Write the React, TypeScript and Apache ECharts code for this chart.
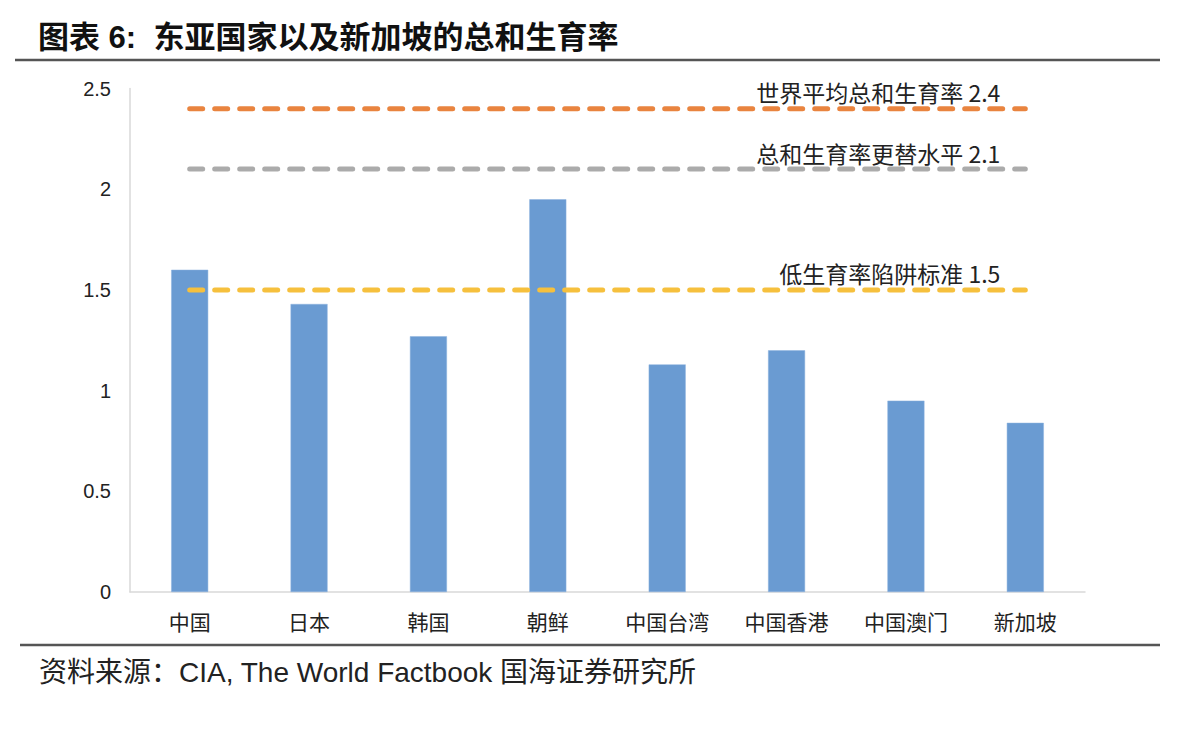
import React, { useEffect, useRef } from "react";
import * as echarts from "echarts";

const categories = ["中国", "日本", "韩国", "朝鲜", "中国台湾", "中国香港", "中国澳门", "新加坡"];
const fertility = [1.6, 1.43, 1.27, 1.95, 1.13, 1.2, 0.95, 0.84];

const refNames = ["世界平均总和生育率", "总和生育率更替水平", "低生育率陷阱标准"];
const refValues = [2.4, 2.1, 1.5];
const refColors = ["#E9843F", "#ABABAB", "#F6C03D"];

const yTicks = { min: 0, max: 2.5, interval: 0.5 };

const titleText = "图表 6:  东亚国家以及新加坡的总和生育率";
const sourceText = "资料来源：CIA, The World Factbook 国海证券研究所";

export default function App() {
  const ref = useRef<HTMLDivElement>(null);

  useEffect(() => {
    if (!ref.current) return;
    const chart = echarts.init(ref.current, undefined, { renderer: "svg" });

    const refSeries = refNames.map((name, i) => ({
      type: "line",
      name,
      data: categories.map(() => refValues[i]),
      symbol: "none",
      z: 5,
      lineStyle: {
        color: refColors[i],
        width: 5,
        type: [13, 12],
        cap: "round",
      },
      endLabel: {
        show: true,
        distance: 0,
        align: "right",
        verticalAlign: "bottom",
        padding: [0, 25, 5, 0],
        formatter: () => `${name} ${refValues[i]}`,
        fontSize: 23,
        color: "#222",
        fontFamily: "Noto Sans CJK SC",
      },
      emphasis: { disabled: true },
      silent: true,
    }));

    chart.setOption({
      animation: false,
      backgroundColor: "#fff",
      grid: { left: 130, right: 115, top: 88.5, bottom: 154, containLabel: false },
      xAxis: {
        type: "category",
        data: categories,
        axisTick: { show: false },
        axisLine: { lineStyle: { color: "#d9d9d9", width: 1.5 } },
        axisLabel: {
          fontSize: 21,
          margin: 18,
          color: "#222",
          fontFamily: "Noto Sans CJK SC",
        },
      },
      yAxis: {
        type: "value",
        min: yTicks.min,
        max: yTicks.max,
        interval: yTicks.interval,
        axisLine: { show: true, lineStyle: { color: "#d9d9d9", width: 1.5 } },
        axisTick: { show: false },
        splitLine: { show: false },
        axisLabel: {
          fontSize: 20,
          margin: 19,
          color: "#222",
          fontFamily: "Liberation Sans",
        },
      },
      series: [
        {
          type: "bar",
          data: fertility,
          barWidth: 37,
          itemStyle: { color: "#6A9BD2", borderColor: "#8db3df", borderWidth: 0.5 },
          z: 2,
          silent: true,
        },
        ...refSeries,
      ],
      graphic: [
        {
          type: "text",
          x: 38,
          y: 37,
          style: {
            text: titleText,
            font: "bold 31px 'Liberation Sans', 'Noto Sans CJK SC'",
            fill: "#111",
            verticalAlign: "middle",
          },
        },
        {
          type: "line",
          shape: { x1: 15, y1: 60, x2: 1160, y2: 60 },
          style: { stroke: "#555", lineWidth: 2.5 },
        },
        {
          type: "line",
          shape: { x1: 20, y1: 645, x2: 1160, y2: 645 },
          style: { stroke: "#555", lineWidth: 2.5 },
        },
        {
          type: "text",
          x: 39,
          y: 672,
          style: {
            text: sourceText,
            font: "28px 'Liberation Sans', 'Noto Sans CJK SC'",
            fill: "#222",
            verticalAlign: "middle",
          },
        },
      ],
    });

    return () => chart.dispose();
  }, []);

  return (
    <div
      ref={ref}
      style={{ position: "fixed", left: 0, top: 0, width: 1200, height: 746, background: "#fff" }}
    />
  );
}
